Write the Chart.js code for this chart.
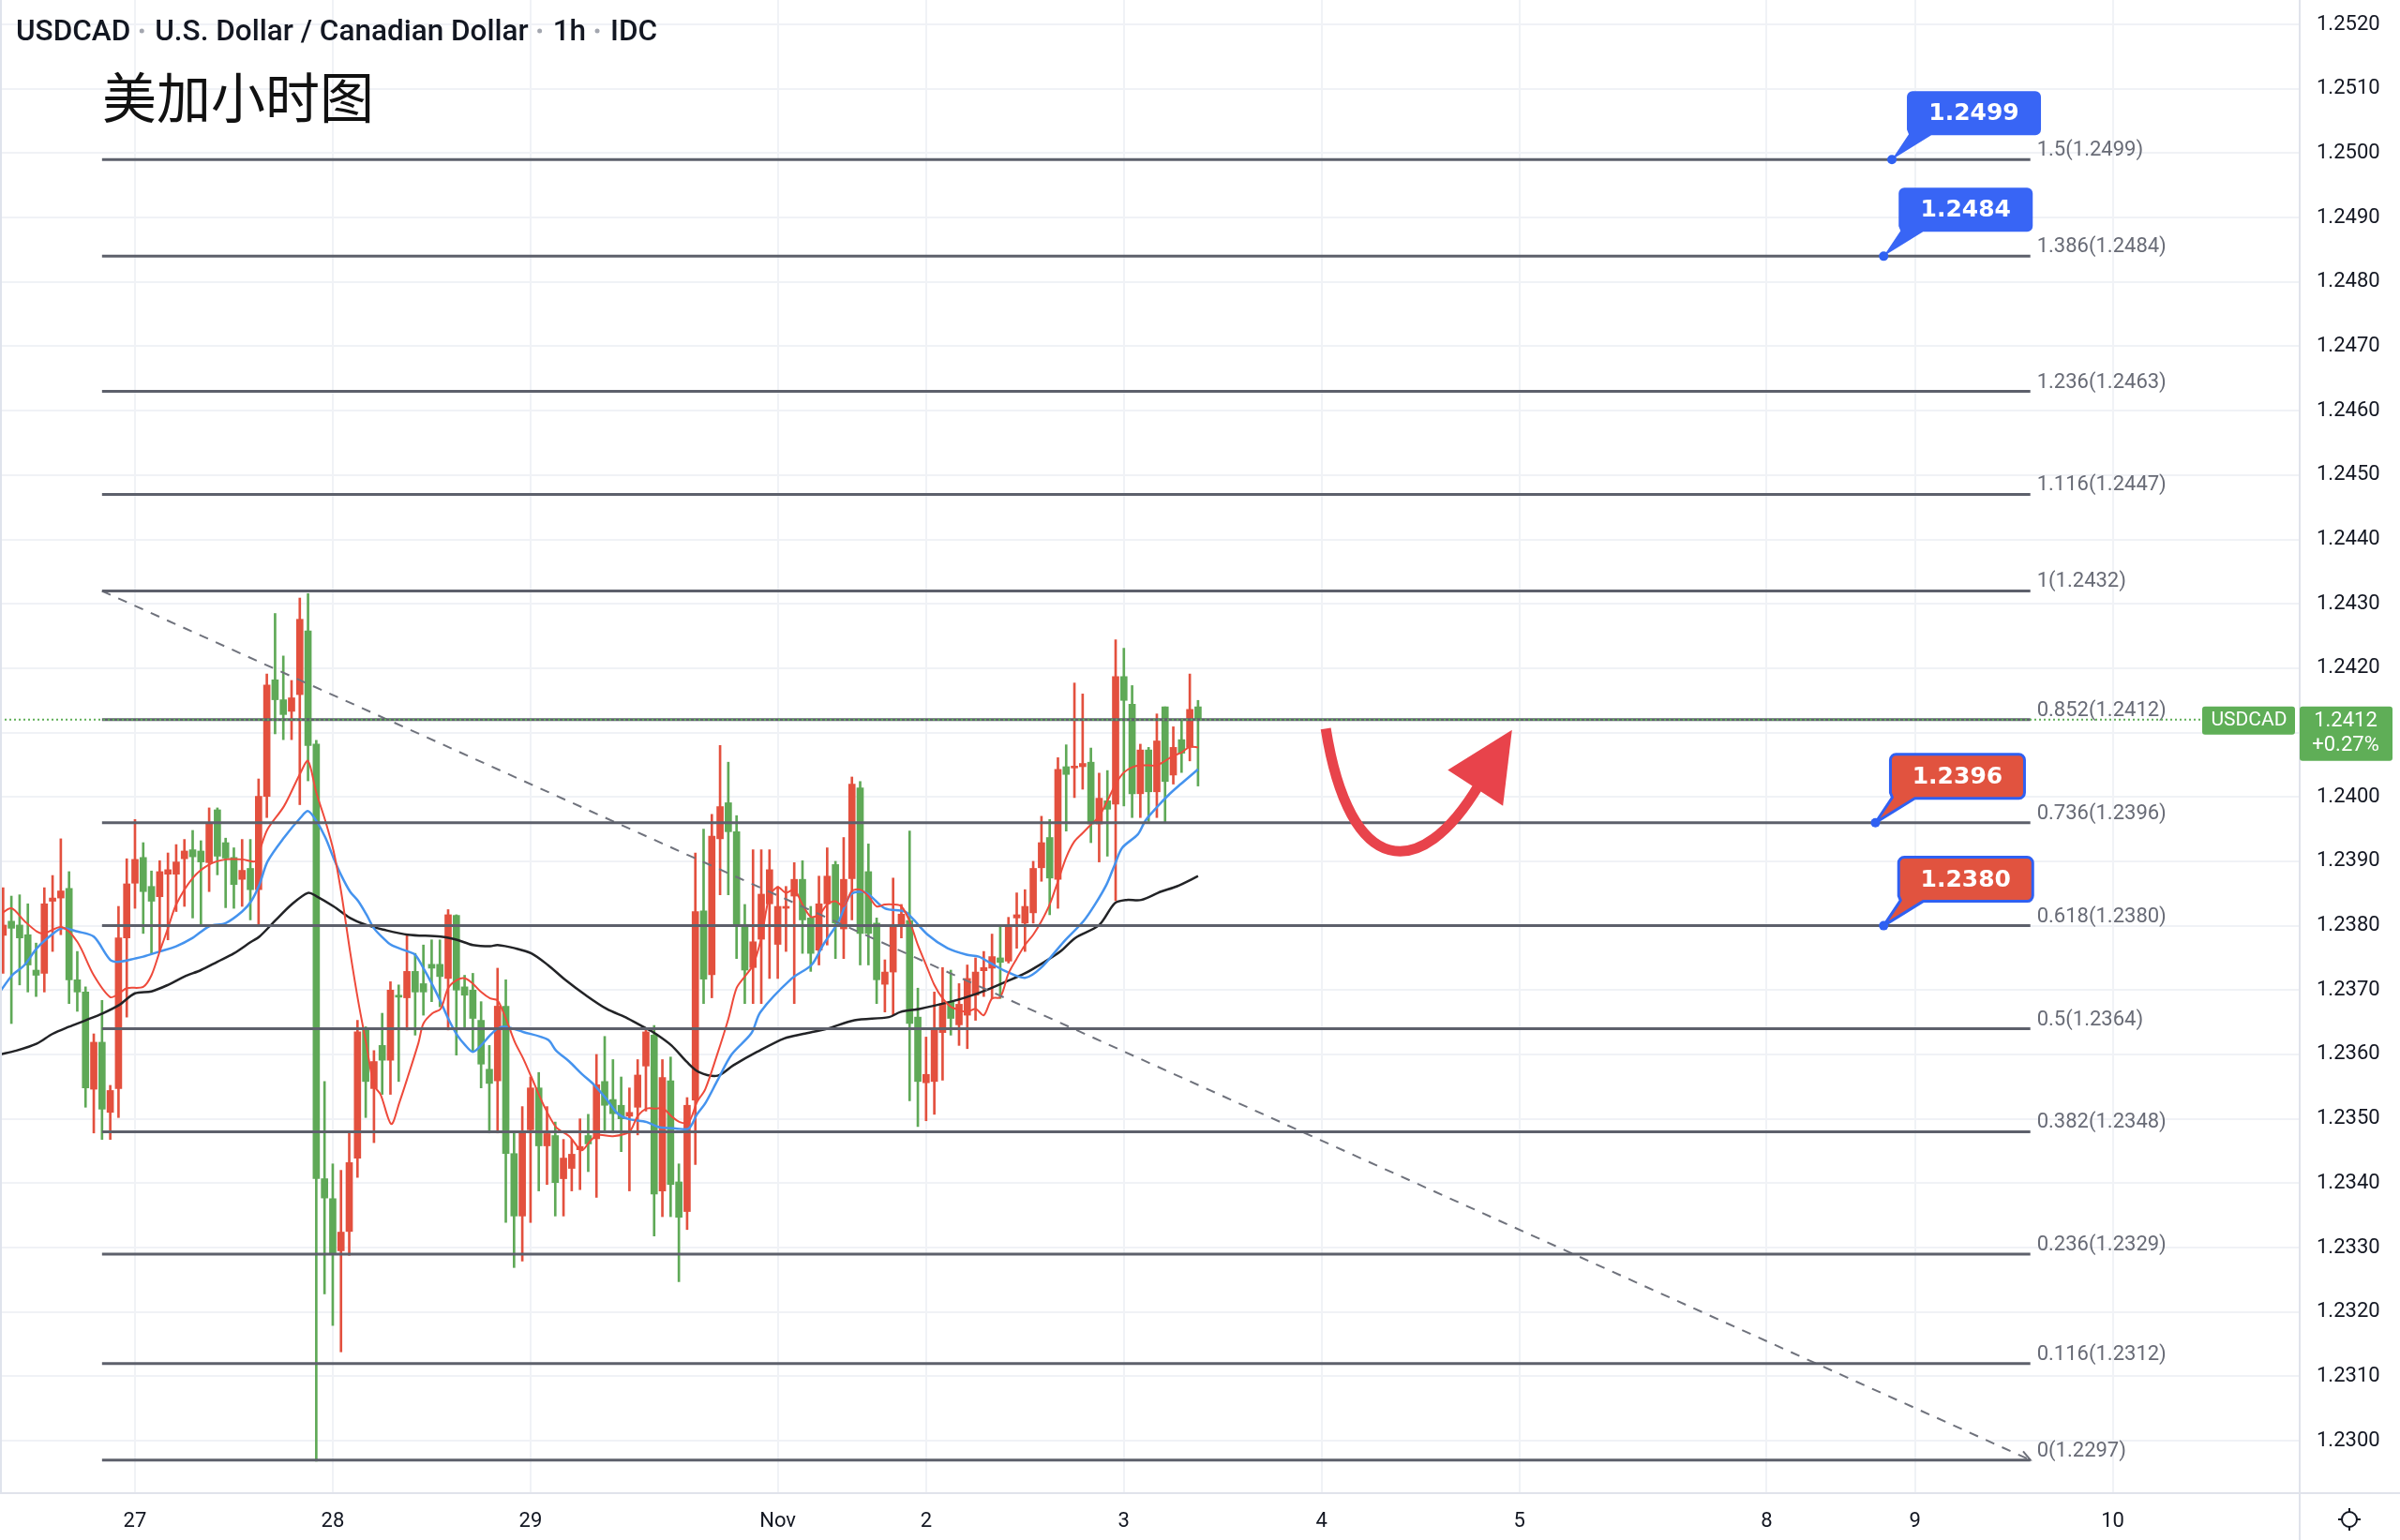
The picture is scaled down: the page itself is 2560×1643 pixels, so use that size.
<!DOCTYPE html>
<html>
<head>
<meta charset="utf-8">
<title>USDCAD 1h</title>
<script src="https://cdn.jsdelivr.net/npm/chart.js@4.4.1/dist/chart.umd.min.js"></script>
<style>
  html, body { margin: 0; padding: 0; background: #ffffff; overflow: hidden; }
  canvas { display: block; }
</style>
</head>
<body>
<canvas id="chart" width="2560" height="1643" style="width:2560px;height:1643px"></canvas>
<script>
// ---- hourly candles, bar numbers counted from the first hour of Oct 27 ----
const FIRST_BAR = -16;
const opens = [
  1.23785,1.23807,1.23801,1.23786,1.23731,1.23726,1.23838,1.23843,1.23858,1.23716,
  1.23697,1.23546,1.23619,1.23510,1.23547,1.23781,1.23866,1.23906,1.23861,1.23845,
  1.23880,1.23880,1.23904,1.23918,1.23916,1.23898,1.23980,1.23929,1.23906,1.23872,
  1.23889,1.23856,1.24001,1.24182,1.24151,1.24133,1.24159,1.24258,1.24082,1.23407,
  1.23376,1.23295,1.23325,1.23439,1.23641,1.23547,1.23614,1.23591,1.23692,1.23688,
  1.23729,1.23710,1.23740,1.23740,1.23718,1.23816,1.23705,1.23700,1.23653,1.23577,
  1.23559,1.23675,1.23446,1.23349,1.23483,1.23548,1.23458,1.23474,1.23407,1.23423,
  1.23452,1.23474,1.23469,1.23558,1.23530,1.23521,1.23504,1.23518,1.23582,1.23630,
  1.23388,1.23559,1.23402,1.23356,1.23529,1.23823,1.23724,1.23935,1.23991,1.23946,
  1.23802,1.23735,1.23779,1.23834,1.23771,1.23827,1.23846,1.23872,1.23812,1.23762,
  1.23834,1.23895,1.23795,1.23873,1.24014,1.23884,1.23804,1.23709,1.23728,1.23799,
  1.23808,1.23658,1.23556,1.23558,1.23634,1.23681,1.23646,1.23661,1.23692,1.23730,
  1.23734,1.23750,1.23745,1.23812,1.23804,1.23820,1.23890,1.23937,1.23872,1.24047,
  1.24045,1.24047,1.24054,1.23958,1.23994,1.23989,1.24187,1.24144,1.24005,1.24073,
  1.24008,1.24140,1.24034,1.24089,1.24077,1.24140
];
const highs = [
  1.23859,1.23846,1.23848,1.23834,1.23773,1.23859,1.23878,1.23935,1.23884,1.23760,
  1.23705,1.23632,1.23684,1.23552,1.23830,1.23904,1.23965,1.23929,1.23885,1.23901,
  1.23913,1.23926,1.23934,1.23948,1.23932,1.23983,1.23983,1.23936,1.23921,1.23934,
  1.23934,1.24028,1.24191,1.24285,1.24219,1.24181,1.24309,1.24316,1.24088,1.23558,
  1.23430,1.23420,1.23479,1.23653,1.23643,1.23606,1.23664,1.23713,1.23708,1.23786,
  1.23757,1.23770,1.23778,1.23778,1.23825,1.23817,1.23723,1.23726,1.23682,1.23614,
  1.23734,1.23716,1.23480,1.23519,1.23565,1.23572,1.23519,1.23495,1.23468,1.23468,
  1.23500,1.23507,1.23600,1.23628,1.23592,1.23565,1.23548,1.23592,1.23640,1.23645,
  1.23592,1.23596,1.23430,1.23533,1.23913,1.23950,1.23973,1.24080,1.24054,1.23971,
  1.23833,1.23918,1.23918,1.23918,1.23861,1.23861,1.23898,1.23901,1.23830,1.23877,
  1.23921,1.23900,1.23937,1.24031,1.24024,1.23927,1.23812,1.23747,1.23874,1.23833,
  1.23947,1.23703,1.23627,1.23697,1.23735,1.23731,1.23710,1.23739,1.23750,1.23760,
  1.23787,1.23801,1.23813,1.23851,1.23856,1.23900,1.23970,1.23965,1.24061,1.24081,
  1.24177,1.24160,1.24076,1.24037,1.24041,1.24244,1.24231,1.24173,1.24082,1.24077,
  1.24129,1.24140,1.24109,1.24121,1.24191,1.24150
];
const lows = [
  1.23726,1.23648,1.23708,1.23697,1.23690,1.23697,1.23760,1.23786,1.23679,1.23667,
  1.23518,1.23478,1.23468,1.23468,1.23502,1.23658,1.23827,1.23788,1.23757,1.23760,
  1.23778,1.23822,1.23830,1.23812,1.23799,1.23853,1.23879,1.23828,1.23827,1.23830,
  1.23809,1.23799,1.23968,1.24098,1.24089,1.24089,1.23988,1.24025,1.22968,1.23228,
  1.23179,1.23138,1.23288,1.23409,1.23502,1.23463,1.23538,1.23538,1.23558,1.23638,
  1.23630,1.23661,1.23682,1.23674,1.23638,1.23599,1.23640,1.23606,1.23548,1.23478,
  1.23478,1.23339,1.23269,1.23279,1.23339,1.23388,1.23398,1.23349,1.23349,1.23388,
  1.23390,1.23418,1.23378,1.23478,1.23478,1.23449,1.23388,1.23475,1.23512,1.23318,
  1.23348,1.23348,1.23247,1.23328,1.23429,1.23679,1.23688,1.23848,1.23848,1.23749,
  1.23679,1.23679,1.23679,1.23718,1.23718,1.23760,1.23679,1.23757,1.23729,1.23739,
  1.23770,1.23749,1.23749,1.23809,1.23739,1.23739,1.23679,1.23666,1.23661,1.23781,
  1.23528,1.23488,1.23497,1.23507,1.23560,1.23630,1.23614,1.23609,1.23653,1.23690,
  1.23687,1.23687,1.23742,1.23765,1.23760,1.23804,1.23869,1.23817,1.23827,1.23947,
  1.23999,1.24012,1.23929,1.23899,1.23908,1.23839,1.23986,1.23968,1.23968,1.23962,
  1.23968,1.23960,1.24020,1.24038,1.24056,1.24017
];
const closes = [
  1.23801,1.23796,1.23781,1.23739,1.23723,1.23834,1.23843,1.23854,1.23716,1.23697,
  1.23548,1.23619,1.23515,1.23544,1.23781,1.23865,1.23903,1.23853,1.23838,1.23884,
  1.23887,1.23899,1.23916,1.23907,1.23899,1.23960,1.23908,1.23905,1.23864,1.23886,
  1.23856,1.24001,1.24174,1.24151,1.24128,1.24154,1.24276,1.24080,1.23407,1.23377,
  1.23291,1.23324,1.23432,1.23635,1.23558,1.23589,1.23591,1.23700,1.23689,1.23729,
  1.23697,1.23697,1.23734,1.23721,1.23817,1.23700,1.23692,1.23656,1.23585,1.23555,
  1.23675,1.23446,1.23349,1.23479,1.23548,1.23458,1.23477,1.23401,1.23439,1.23445,
  1.23457,1.23461,1.23553,1.23521,1.23508,1.23500,1.23510,1.23568,1.23635,1.23383,
  1.23564,1.23398,1.23347,1.23521,1.23822,1.23717,1.23939,1.23985,1.23946,1.23801,
  1.23731,1.23775,1.23849,1.23887,1.23830,1.23830,1.23872,1.23809,1.23757,1.23834,
  1.23877,1.23804,1.23872,1.24020,1.23788,1.23788,1.23716,1.23728,1.23802,1.23818,
  1.23648,1.23558,1.23569,1.23639,1.23679,1.23656,1.23678,1.23718,1.23728,1.23735,
  1.23752,1.23743,1.23799,1.23817,1.23830,1.23889,1.23929,1.23874,1.24043,1.24035,
  1.24047,1.24052,1.23958,1.23998,1.23981,1.24187,1.24150,1.24005,1.24073,1.24008,
  1.24087,1.24024,1.24077,1.24068,1.24136,1.24120
];

// ---- moving averages, [bar, price] ----
const maFast = [
  [-16.4,1.23817],[-15,1.23827],[-13.4,1.23807],[-11.9,1.23791],[-11,1.23788],[-8.9,1.23798],
  [-7,1.23775],[-5,1.23723],[-3,1.23689],[-1.9,1.23695],[-1,1.23703],[1,1.23705],[2,1.23723],
  [3,1.23760],[4,1.23796],[5,1.23833],[7,1.23874],[9,1.23895],[11,1.23903],[13,1.23903],
  [14.6,1.23900],[15.1,1.23916],[16.1,1.23950],[18.1,1.23986],[20.1,1.24038],[21,1.24056],
  [22,1.24007],[23.1,1.23963],[24.1,1.23916],[25,1.23854],[26.1,1.23760],[27.1,1.23682],
  [28.1,1.23614],[29,1.23552],[29.8,1.23538],[31.1,1.23492],[32.1,1.23526],[33.1,1.23565],
  [34.4,1.23618],[35,1.23648],[36.1,1.23664],[37.1,1.23671],[38,1.23703],[39.1,1.23716],
  [40.1,1.23718],[41,1.23710],[42,1.23697],[43.1,1.23687],[44,1.23684],[45,1.23656],
  [46.1,1.23619],[47.1,1.23594],[48.1,1.23565],[49.6,1.23521],[51.1,1.23487],[52.7,1.23473],
  [54.2,1.23451],[55.2,1.23465],[56.2,1.23475],[58,1.23473],[60,1.23480],[61,1.23504],
  [62.1,1.23516],[63.1,1.23516],[64.1,1.23516],[65.1,1.23504],[66.1,1.23495],[67.2,1.23495],
  [68.2,1.23526],[69.2,1.23546],[70.6,1.23598],[72,1.23655],[73,1.23703],[74,1.23721],
  [75,1.23739],[76,1.23781],[77,1.23846],[78,1.23860],[79,1.23851],[80,1.23856],[81,1.23833],
  [82,1.23814],[83,1.23817],[84,1.23833],[85,1.23838],[86,1.23830],[87,1.23854],[88,1.23856],
  [89,1.23846],[90,1.23830],[91,1.23833],[92,1.23833],[93,1.23830],[94,1.23807],[95,1.23770],
  [96,1.23739],[97,1.23708],[98,1.23687],[99,1.23674],[100,1.23669],[101,1.23666],[102,1.23671],
  [103,1.23661],[104,1.23687],[105,1.23689],[106,1.23726],[107,1.23749],[108,1.23770],
  [109,1.23786],[110,1.23807],[111,1.23833],[112,1.23869],[113,1.23906],[114,1.23931],
  [115,1.23944],[116,1.23957],[117,1.23970],[118,1.23994],[119,1.24020],[120,1.24038],
  [121,1.24046],[122,1.24049],[123,1.24049],[124,1.24049],[125,1.24056],[126,1.24064],
  [127,1.24069],[128,1.24078],[129,1.24077]
];
const maMid = [
  [-16.4,1.23697],[-14.9,1.23723],[-13.4,1.23739],[-11.9,1.23765],[-9.9,1.23788],[-8.8,1.23796],
  [-7,1.23791],[-5,1.23783],[-3,1.23747],[-1.9,1.23744],[0,1.23749],[1,1.23752],[3,1.23760],
  [5,1.23768],[7,1.23781],[9,1.23799],[11,1.23804],[13,1.23822],[14.1,1.23838],[15.1,1.23864],
  [16.1,1.23900],[18.1,1.23937],[20.1,1.23968],[21,1.23978],[22,1.23963],[23.1,1.23937],
  [24.1,1.23905],[25,1.23879],[26.1,1.23853],[27.1,1.23838],[28.1,1.23817],[29,1.23796],
  [30.1,1.23781],[31.1,1.23770],[33.1,1.23760],[34,1.23755],[35,1.23734],[36.1,1.23708],
  [37.1,1.23682],[38,1.23656],[39.1,1.23630],[40.1,1.23614],[41,1.23604],[42,1.23614],
  [43.1,1.23630],[44,1.23640],[45,1.23643],[47.1,1.23635],[50.1,1.23623],[51.1,1.23606],
  [52.7,1.23589],[54.2,1.23570],[55.7,1.23553],[57.2,1.23531],[58.5,1.23509],[59.8,1.23500],
  [62.1,1.23495],[63.6,1.23487],[65.6,1.23485],[67.2,1.23485],[68.2,1.23507],[69.2,1.23524],
  [70.7,1.23560],[72.4,1.23600],[74.8,1.23633],[75.9,1.23666],[79.7,1.23718],[82.1,1.23739],
  [83.5,1.23770],[85.4,1.23807],[86.8,1.23848],[88.2,1.23853],[89.1,1.23848],[91,1.23827],
  [93.4,1.23822],[94.3,1.23812],[96.2,1.23786],[98.6,1.23765],[100.9,1.23755],[102.4,1.23752],
  [103.8,1.23742],[105.7,1.23729],[108,1.23719],[109.9,1.23734],[112.7,1.23775],[115.1,1.23807],
  [116.5,1.23833],[117.9,1.23864],[118.9,1.23895],[119.8,1.23921],[121.7,1.23942],[122.6,1.23963],
  [124,1.23984],[125.5,1.24004],[126.9,1.24020],[129,1.24043]
];
const maSlow = [
  [-16.4,1.23600],[-14.4,1.23606],[-11.9,1.23617],[-10,1.23632],[-8,1.23643],[-6,1.23653],
  [-3.9,1.23664],[-1.9,1.23677],[0,1.23695],[2,1.23698],[4,1.23708],[6,1.23721],[8,1.23731],
  [10,1.23744],[12,1.23757],[14.1,1.23775],[15.1,1.23783],[17.1,1.23809],[19,1.23833],
  [21,1.23851],[22,1.23846],[24.1,1.23830],[26.1,1.23812],[28.1,1.23801],[30.1,1.23794],
  [33.1,1.23786],[37.1,1.23783],[39.1,1.23778],[41,1.23770],[43.1,1.23768],[44,1.23770],
  [46.1,1.23765],[48.1,1.23757],[50.1,1.23739],[52.2,1.23716],[54.7,1.23692],[57.2,1.23671],
  [59.8,1.23656],[62.1,1.23640],[63.2,1.23632],[65.1,1.23614],[67,1.23588],[68.4,1.23573],
  [70.7,1.23567],[72.6,1.23583],[75.5,1.23604],[78.8,1.23625],[81.1,1.23632],[84,1.23640],
  [87.3,1.23653],[91.5,1.23658],[92.9,1.23666],[95.3,1.23671],[99,1.23682],[100.9,1.23689],
  [103.3,1.23700],[105.7,1.23713],[108,1.23726],[110.4,1.23744],[112.3,1.23760],[114.1,1.23781],
  [117,1.23801],[118.9,1.23835],[120.3,1.23840],[122.1,1.23840],[124.5,1.23853],[126.4,1.23861],
  [129,1.23877]
];

// ---- Fibonacci extension ----
const fibRatios = ['1.5','1.386','1.236','1.116','1','0.852','0.736','0.618','0.5','0.382','0.236','0.116','0'];
const fibPrices = [1.2499,1.2484,1.2463,1.2447,1.2432,1.2412,1.2396,1.2380,1.2364,1.2348,1.2329,1.2312,1.2297];
const fibFromBar = -4;
const fibToBar = 230;

// ---- price callouts ----
const calloutPrices = [1.2499, 1.2484, 1.2396, 1.2380];
const calloutBars = [213.2, 212.2, 211.2, 212.2];
const calloutKind = ['blue', 'blue', 'red', 'red'];

// ---- hand-drawn rebound arrow, [bar, price] ----
const arrowCurve = [[144.5,1.24106],[147.4,1.23873],[156.0,1.23866],[163.1,1.24019]];
const arrowHead = [[167.1,1.24104],[159.3,1.24042],[166.0,1.23986]];

// ---- axes ----
const dayTickAt = [0, 24, 48, 78, 96, 120, 144, 168, 198, 216, 240];
const dayTickText = ['27', '28', '29', 'Nov', '2', '3', '4', '5', '8', '9', '10'];
const priceTicks = [1.2300,1.2310,1.2320,1.2330,1.2340,1.2350,1.2360,1.2370,1.2380,1.2390,1.2400,
                    1.2410,1.2420,1.2430,1.2440,1.2450,1.2460,1.2470,1.2480,1.2490,1.2500,1.2510,1.2520];
const X_MIN = -16.38, X_MAX = 262.57;
const Y_MIN = 1.22920, Y_MAX = 1.25238;

const symbol = 'USDCAD';
const titleParts = ['USDCAD', 'U.S. Dollar / Canadian Dollar', '1h', 'IDC'];
const chartNote = '美加小时图';
const dayChange = '+0.27%';

const UP = '#e3503e';
const DOWN = '#5fa957';
const candleColor = k => (closes[k] > opens[k] ? UP : DOWN);
const barNo = k => FIRST_BAR + k;

function roundRect(c, x, y, w, h, r) {
  c.beginPath();
  c.moveTo(x + r, y);
  c.lineTo(x + w - r, y); c.arcTo(x + w, y, x + w, y + r, r);
  c.lineTo(x + w, y + h - r); c.arcTo(x + w, y + h, x + w - r, y + h, r);
  c.lineTo(x + r, y + h); c.arcTo(x, y + h, x, y + h - r, r);
  c.lineTo(x, y + r); c.arcTo(x, y, x + r, y, r);
  c.closePath();
}

function drawCallout(c, ax, ay, text, kind) {
  const w = 143, h = 47, r = 6;
  const bx = ax + 16, bb = ay - 26, by = bb - h;
  c.beginPath();
  c.moveTo(bx + r, by);
  c.lineTo(bx + w - r, by); c.arcTo(bx + w, by, bx + w, by + r, r);
  c.lineTo(bx + w, bb - r); c.arcTo(bx + w, bb, bx + w - r, bb, r);
  c.lineTo(bx + 26, bb);
  c.lineTo(ax, ay);
  c.lineTo(bx + 2, bb - 1);
  c.lineTo(bx, bb - r);
  c.lineTo(bx, by + r); c.arcTo(bx, by, bx + r, by, r);
  c.closePath();
  if (kind === 'red') {
    c.fillStyle = '#e1533f';
    c.fill();
    c.lineWidth = 3; c.strokeStyle = '#2f60f2'; c.lineJoin = 'round';
    c.stroke();
  } else {
    c.fillStyle = '#3865f5';
    c.fill();
  }
  c.fillStyle = '#ffffff';
  c.font = 'bold 25px "DejaVu Sans"';
  c.textAlign = 'center'; c.textBaseline = 'middle';
  c.fillText(text, bx + w / 2, by + h / 2 + 1);
  c.beginPath(); c.arc(ax, ay, 5, 0, Math.PI * 2);
  c.fillStyle = '#2f60f2'; c.fill();
}

const decor = {
  id: 'decor',
  beforeDraw(chart) {
    const c = chart.ctx;
    c.save();
    c.fillStyle = '#ffffff';
    c.fillRect(0, 0, chart.width, chart.height);
    c.restore();
  },
  afterDatasetsDraw(chart) {
    const c = chart.ctx, xs = chart.scales.x, ys = chart.scales.y, a = chart.chartArea;
    const X = v => xs.getPixelForValue(v), Y = v => ys.getPixelForValue(v);
    c.save();

    // dashed trend line of the Fibonacci tool (level 1 down to level 0)
    const i1 = fibRatios.indexOf('1'), i0 = fibRatios.indexOf('0');
    const tx0 = X(fibFromBar), ty0 = Y(fibPrices[i1]), tx1 = X(fibToBar), ty1 = Y(fibPrices[i0]);
    c.strokeStyle = '#6f727c'; c.lineWidth = 2; c.setLineDash([10, 9]);
    c.beginPath(); c.moveTo(tx0, ty0); c.lineTo(tx1, ty1); c.stroke();
    c.setLineDash([]);
    const ang = Math.atan2(ty1 - ty0, tx1 - tx0);
    c.beginPath();
    c.moveTo(tx1 - 12 * Math.cos(ang - 0.45), ty1 - 12 * Math.sin(ang - 0.45));
    c.lineTo(tx1, ty1);
    c.lineTo(tx1 - 12 * Math.cos(ang + 0.45), ty1 - 12 * Math.sin(ang + 0.45));
    c.stroke();

    // level lines and labels
    c.strokeStyle = '#5d606b'; c.lineWidth = 3;
    c.font = '22px Roboto'; c.fillStyle = '#686b76';
    c.textAlign = 'left'; c.textBaseline = 'alphabetic';
    fibPrices.forEach((p, k) => {
      const y = Y(p);
      c.beginPath(); c.moveTo(X(fibFromBar), y); c.lineTo(X(fibToBar), y); c.stroke();
      c.fillText(fibRatios[k] + '(' + p.toFixed(4) + ')', X(fibToBar) + 7, y - 4);
    });

    // last price line
    const last = closes[closes.length - 1];
    const py = Y(last);
    c.strokeStyle = '#5fae57'; c.lineWidth = 2; c.setLineDash([2, 3]);
    c.beginPath(); c.moveTo(a.left, py); c.lineTo(a.right - 103, py); c.stroke();
    c.setLineDash([]);

    // rebound arrow
    const P = q => [X(q[0]), Y(q[1])];
    const [p0, p1, p2, p3] = arrowCurve.map(P);
    c.strokeStyle = '#e8434b'; c.lineWidth = 11; c.lineCap = 'butt';
    c.beginPath(); c.moveTo(p0[0], p0[1]);
    c.bezierCurveTo(p1[0], p1[1], p2[0], p2[1], p3[0], p3[1]);
    c.stroke();
    const h = arrowHead.map(P);
    c.fillStyle = '#e8434b';
    c.beginPath(); c.moveTo(h[0][0], h[0][1]); c.lineTo(h[1][0], h[1][1]); c.lineTo(h[2][0], h[2][1]);
    c.closePath(); c.fill();

    // callouts
    calloutPrices.forEach((p, k) => {
      drawCallout(c, X(calloutBars[k]), Y(p), p.toFixed(4), calloutKind[k]);
    });
    c.restore();
  },
  afterDraw(chart) {
    const c = chart.ctx, ys = chart.scales.y, a = chart.chartArea;
    c.save();

    // panel borders
    c.fillStyle = '#e0e3eb';
    c.fillRect(a.right, 0, 2, chart.height);
    c.fillRect(0, a.bottom, chart.width, 2);
    c.fillStyle = '#dfe3ec';
    c.fillRect(0, 0, 2, a.bottom);

    // symbol tag and last price tag
    const last = closes[closes.length - 1];
    const py = ys.getPixelForValue(last);
    c.fillStyle = '#5fae57';
    roundRect(c, a.right - 103, py - 14, 99, 30, 3); c.fill();
    roundRect(c, a.right + 1, py - 14, 99, 58, 3); c.fill();
    c.fillStyle = '#ffffff'; c.font = '21px Roboto';
    c.textAlign = 'center'; c.textBaseline = 'middle';
    c.fillText(symbol, a.right - 53, py + 1);
    c.font = '22px Roboto';
    c.fillText(last.toFixed(4), a.right + 50, py + 2);
    c.fillText(dayChange, a.right + 50, py + 28);

    // header
    c.textAlign = 'left'; c.textBaseline = 'alphabetic';
    c.font = '500 31.5px Roboto';
    let x = 17;
    titleParts.forEach((t, k) => {
      c.fillStyle = '#131722';
      c.fillText(t, x, 43);
      x += c.measureText(t).width;
      if (k < titleParts.length - 1) {
        c.fillStyle = '#a3a6af';
        c.beginPath(); c.arc(x + 12, 33, 2.5, 0, Math.PI * 2); c.fill();
        x += 26;
      }
    });
    c.fillStyle = '#111111';
    c.font = '58px "Noto Sans CJK SC"';
    c.textBaseline = 'middle';
    c.fillText(chartNote, 109, 104);

    // settings glyph
    const gx = a.right + 54, gy = a.bottom + 29;
    c.strokeStyle = '#131722'; c.lineWidth = 2;
    c.beginPath(); c.arc(gx, gy, 8, 0, Math.PI * 2); c.stroke();
    for (let s = 0; s < 4; s++) {
      const t = s * Math.PI / 2;
      c.beginPath();
      c.moveTo(gx + 8 * Math.cos(t), gy + 8 * Math.sin(t));
      c.lineTo(gx + 12 * Math.cos(t), gy + 12 * Math.sin(t));
      c.stroke();
    }
    c.restore();
  }
};

Chart.defaults.font.family = 'Roboto';

new Chart(document.getElementById('chart').getContext('2d'), {
  type: 'bar',
  data: {
    datasets: [
      {
        type: 'line', label: 'MA fast', order: 0,
        data: maFast.map(q => ({ x: q[0], y: q[1] })),
        borderColor: '#ee4a3b', borderWidth: 2, pointRadius: 0, tension: 0.3, fill: false
      },
      {
        type: 'line', label: 'MA mid', order: 1,
        data: maMid.map(q => ({ x: q[0], y: q[1] })),
        borderColor: '#4593ee', borderWidth: 2.5, pointRadius: 0, tension: 0.3, fill: false
      },
      {
        type: 'line', label: 'MA slow', order: 1,
        data: maSlow.map(q => ({ x: q[0], y: q[1] })),
        borderColor: '#222326', borderWidth: 2.5, pointRadius: 0, tension: 0.3, fill: false
      },
      {
        type: 'bar', label: 'bodies', order: 3, grouped: false,
        data: opens.map((o, k) => ({ x: barNo(k), y: [o, closes[k]] })),
        backgroundColor: ctx => candleColor(ctx.dataIndex),
        barThickness: 7, minBarLength: 2, borderWidth: 0
      },
      {
        type: 'bar', label: 'wicks', order: 4, grouped: false,
        data: lows.map((l, k) => ({ x: barNo(k), y: [l, highs[k]] })),
        backgroundColor: ctx => candleColor(ctx.dataIndex),
        barThickness: 2, borderWidth: 0
      }
    ]
  },
  options: {
    responsive: false,
    animation: false,
    devicePixelRatio: 1,
    layout: { padding: 0 },
    plugins: { legend: { display: false }, tooltip: { enabled: false } },
    scales: {
      x: {
        type: 'linear', min: X_MIN, max: X_MAX, offset: false,
        grid: { color: '#f0f2f6', lineWidth: 2, drawTicks: false, offset: false },
        border: { display: false },
        ticks: {
          autoSkip: false, maxRotation: 0, padding: 18, color: '#131722',
          font: { family: 'Roboto', size: 22 },
          callback: v => { const k = dayTickAt.indexOf(v); return k < 0 ? '' : dayTickText[k]; }
        },
        afterBuildTicks: s => { s.ticks = dayTickAt.map(v => ({ value: v })); },
        afterFit: s => { s.height = 51; s.paddingLeft = 0; s.paddingRight = 0; }
      },
      y: {
        type: 'linear', position: 'right', min: Y_MIN, max: Y_MAX, beginAtZero: false,
        grid: { color: '#f0f2f6', lineWidth: 2, drawTicks: false },
        border: { display: false },
        ticks: {
          padding: 19, color: '#131722',
          font: { family: 'Roboto', size: 22 },
          callback: v => Number(v).toFixed(4)
        },
        afterBuildTicks: s => { s.ticks = priceTicks.map(v => ({ value: v })); },
        afterFit: s => { s.width = 108; s.paddingTop = 0; s.paddingBottom = 0; }
      }
    }
  },
  plugins: [decor]
});
</script>
</body>
</html>
